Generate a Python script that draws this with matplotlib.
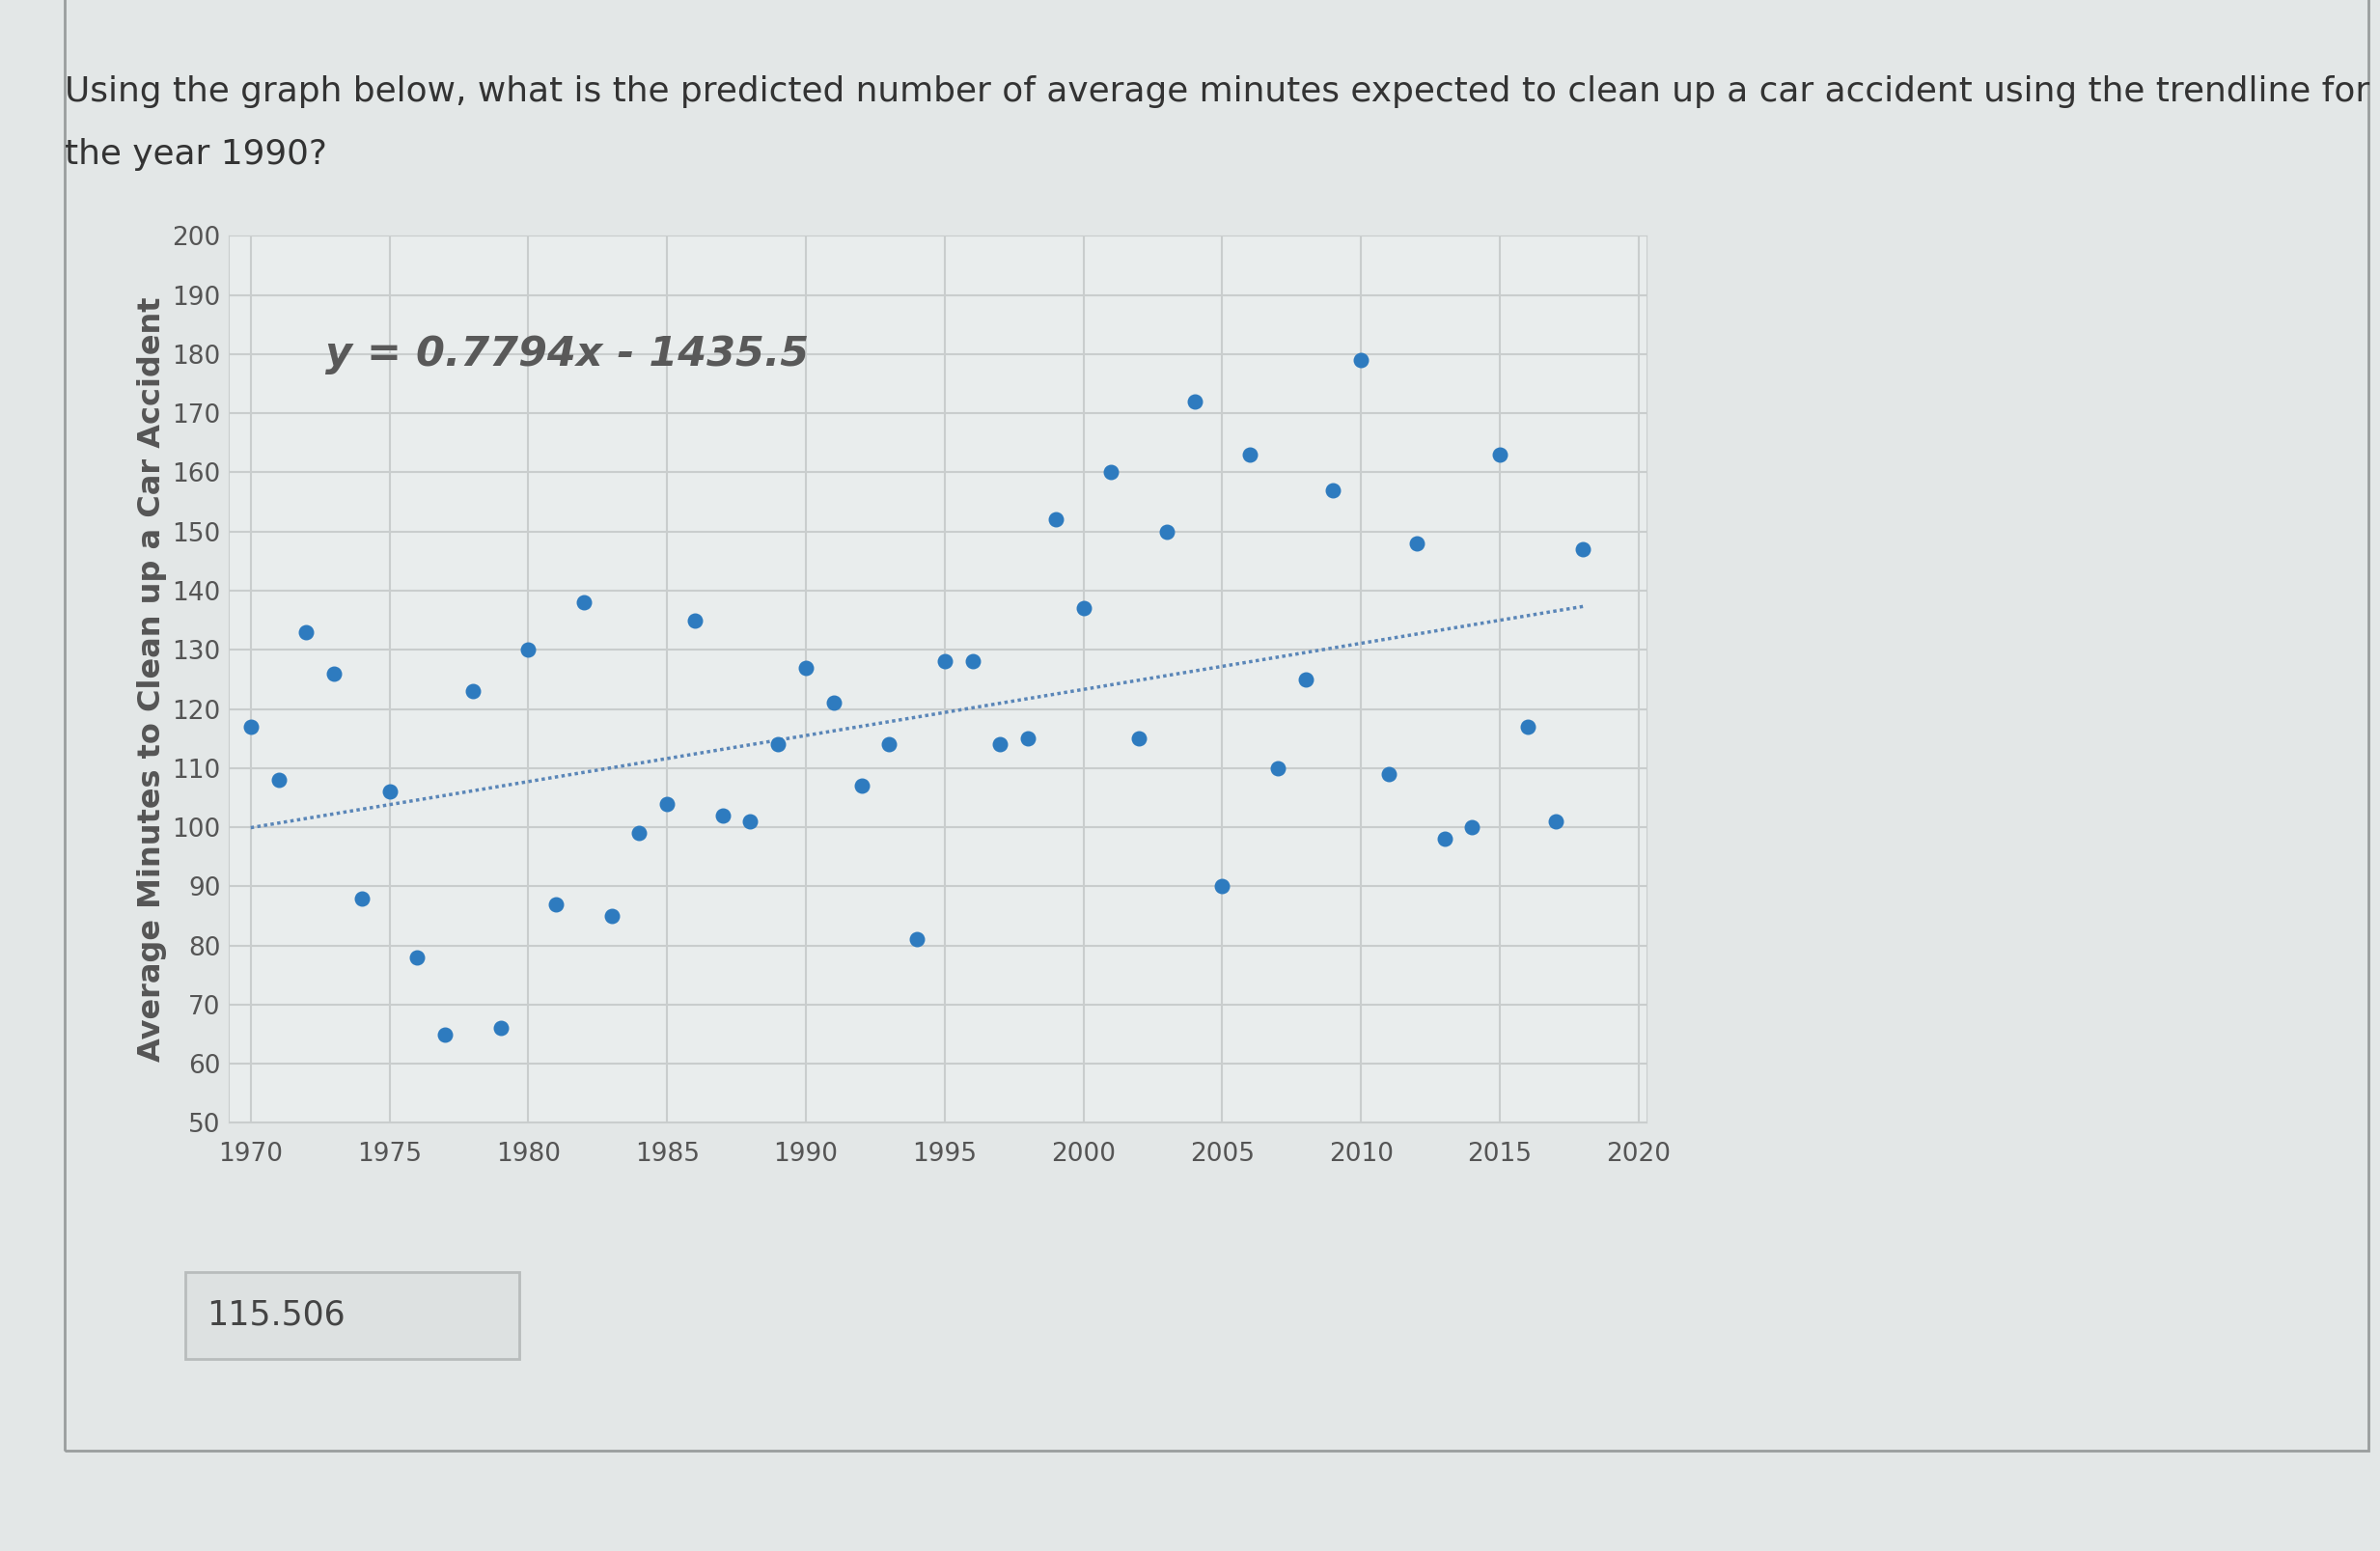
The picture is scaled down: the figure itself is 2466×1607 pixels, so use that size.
import matplotlib
matplotlib.use("Agg")
import matplotlib.pyplot as plt
import numpy as np
from matplotlib.patches import Rectangle

years = [1970,1971,1972,1973,1974,1975,1976,1977,1978,1979,1980,1981,1982,1983,1984,1985,1986,1987,1988,1989,
         1990,1991,1992,1993,1994,1995,1996,1997,1998,1999,2000,2001,2002,2003,2004,2005,2006,2007,2008,2009,
         2010,2011,2012,2013,2014,2015,2016,2017,2018]
minutes = [117,108,133,126,88,106,78,65,123,66,130,87,138,85,99,104,135,102,101,114,
           127,121,107,114,81,128,128,114,115,152,137,160,115,150,172,90,163,110,125,157,
           179,109,148,98,100,163,117,101,147]
slope, intercept = 0.7794, -1435.5
x_ticks = [1970,1975,1980,1985,1990,1995,2000,2005,2010,2015,2020]
y_ticks = list(range(50, 201, 10))

bg = "#e3e7e7"
fig = plt.figure(figsize=(24.66, 16.07), dpi=100, facecolor=bg)
fig.text(0.027, 0.93, "Using the graph below, what is the predicted number of average minutes expected to clean up a car accident using the trendline for",
         fontsize=25.8, color="#333333", va="bottom")
fig.text(0.027, 0.89, "the year 1990?", fontsize=25.8, color="#333333", va="bottom")

ax = fig.add_axes([0.096, 0.276, 0.596, 0.572], facecolor="#e9eded")
ax.scatter(years, minutes, s=110, color="#2e7bbf", zorder=3)
tx = np.array([1970, 2018])
ax.plot(tx, slope * tx + intercept, linestyle=(0, (1, 1)), color="#5a86b8", lw=2.5, zorder=2)
ax.set_xlim(1969.2, 2020.3)
ax.set_ylim(50, 200)
ax.set_xticks(x_ticks)
ax.set_yticks(y_ticks)
ax.tick_params(labelsize=19, colors="#555555", length=0)
ax.tick_params(axis="x", pad=14)
ax.tick_params(axis="y", pad=6)
ax.grid(True, color="#c9cdcd", lw=1.5)
for s in ax.spines.values():
    s.set_color("#c9cdcd")
ax.set_ylabel("Average Minutes to Clean up a Car Accident", fontsize=23, fontweight="bold", color="#555555")
ax.text(1972.7, 180, "y = 0.7794x - 1435.5", fontsize=31, fontstyle="italic", fontweight="bold",
        color="#595959", va="center")

fig.patches.append(Rectangle((0.078, 0.124), 0.14, 0.056, transform=fig.transFigure,
                             facecolor="#dde1e1", edgecolor="#b8bcbc", lw=2))
fig.text(0.087, 0.152, "115.506", fontsize=25, color="#444444", va="center")
fig.patches.append(Rectangle((0.027, 0.065), 0.968, 1.0, transform=fig.transFigure,
                             facecolor="none", edgecolor="#9a9e9e", lw=2))
fig.savefig("out.png", dpi=100, facecolor=bg)
